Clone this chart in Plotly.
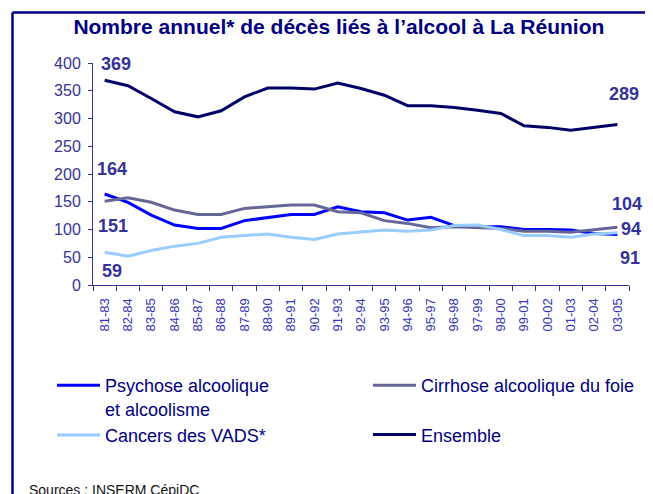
import plotly.graph_objects as go

categories = ["81-83", "82-84", "83-85", "84-86", "85-87", "86-88", "87-89", "88-90",
              "89-91", "90-92", "91-93", "92-94", "93-95", "94-96", "95-97", "96-98",
              "97-99", "98-00", "99-01", "00-02", "01-03", "02-04", "03-05"]
psychose = [164, 149, 126, 108, 102, 102, 116, 122, 127, 127, 141, 132, 130, 117, 122, 107,
            105, 105, 100, 100, 99, 93, 91]
cirrhose = [151, 157, 149, 135, 127, 127, 138, 141, 144, 144, 132, 130, 116, 111, 103, 105,
            103, 102, 97, 97, 95, 99, 104]
cancers = [59, 52, 62, 70, 75, 86, 89, 92, 86, 82, 92, 96, 99, 97, 99, 107,
           108, 100, 89, 89, 86, 92, 94]
ensemble = [369, 359, 336, 312, 303, 314, 339, 355, 355, 353, 364, 354, 342, 323, 323, 320,
            315, 309, 287, 284, 279, 284, 289]
series_names = ["Psychose alcoolique<br>et alcoolisme", "Cirrhose alcoolique du foie",
                "Cancers des VADS*", "Ensemble"]
colors = ["#0000FF", "#666699", "#99CCFF", "#000066"]
legend_cols = ["legend", "legend2", "legend", "legend2"]

FONT = "Liberation Sans, Arial, sans-serif"
LABEL_COL = "#333399"

fig = go.Figure()
for i, (name, vals, col, lg) in enumerate(zip(series_names,
                                              [psychose, cirrhose, cancers, ensemble],
                                              colors, legend_cols)):
    fig.add_trace(go.Scatter(x=categories, y=vals, mode="lines", name=name,
                             legend=lg, legendgroup="g%d" % i,
                             line=dict(color=col, width=3), hoverinfo="skip"))

# value labels tied to data points
labels = [
    (0, ensemble[0], 11, 16),
    (0, psychose[0], 7, 25),
    (0, cirrhose[0], 8, -25),
    (0, cancers[0], 7, -19),
    (-1, ensemble[-1], 7, 31),
    (-1, cirrhose[-1], 10, 23),
    (-1, cancers[-1], 14, 4),
    (-1, psychose[-1], 13, -23),
]
for idx, val, xs, ys in labels:
    fig.add_annotation(x=categories[idx], y=val, text="<b>%d</b>" % val, showarrow=False,
                       xshift=xs, yshift=ys, font=dict(family=FONT, size=18, color=LABEL_COL))

fig.add_annotation(xref="paper", yref="paper", x=-0.123, y=-0.923, xanchor="left",
                   yanchor="middle", text="Sources : INSERM CépiDC", showarrow=False,
                   font=dict(family=FONT, size=14, color="#111111"))

# frame
fig.add_shape(type="line", xref="paper", yref="paper", x0=-0.1502, x1=-0.1502,
              y0=1.2275, y1=-1.2, line=dict(color="#000080", width=2.5))
fig.add_shape(type="line", xref="paper", yref="paper", x0=-0.1502, x1=1.2,
              y0=1.2275, y1=1.2275, line=dict(color="#000080", width=2.5))

legend_common = dict(orientation="v", yanchor="top", xanchor="left", valign="top",
                     font=dict(family=FONT, size=18, color="#000080"), itemwidth=43,
                     bgcolor="rgba(0,0,0,0)")

fig.update_layout(
    width=645, height=486,
    margin=dict(l=85, r=24, t=55, b=209, autoexpand=False),
    paper_bgcolor="white", plot_bgcolor="white",
    font=dict(family=FONT, color=LABEL_COL),
    title=dict(text="<b>Nombre annuel* de décès liés à l’alcool à La Réunion</b>",
               x=0.513, xanchor="center", y=0.961, yanchor="middle",
               font=dict(family=FONT, size=21, color="#000080")),
    xaxis=dict(type="category", tickangle=-90, showline=True, linecolor=LABEL_COL,
               linewidth=1, ticks="outside", tickson="boundaries", ticklen=5,
               tickcolor=LABEL_COL, showgrid=False, range=[-0.5, 22.5],
               ticklabelstandoff=7,
               tickfont=dict(family=FONT, size=13, color="#3333BB")),
    yaxis=dict(range=[0, 400], dtick=50, showline=True, linecolor=LABEL_COL, linewidth=1,
               ticks="outside", ticklen=4, tickcolor=LABEL_COL, showgrid=False,
               zeroline=False, ticklabelstandoff=4,
               tickfont=dict(family=FONT, size=16, color=LABEL_COL)),
    legend=dict(x=-0.0765, y=-0.3694, tracegroupgap=0, **legend_common),
    legend2=dict(x=0.513, y=-0.3694, tracegroupgap=23, **legend_common),
)

fig.write_html("out.html")
